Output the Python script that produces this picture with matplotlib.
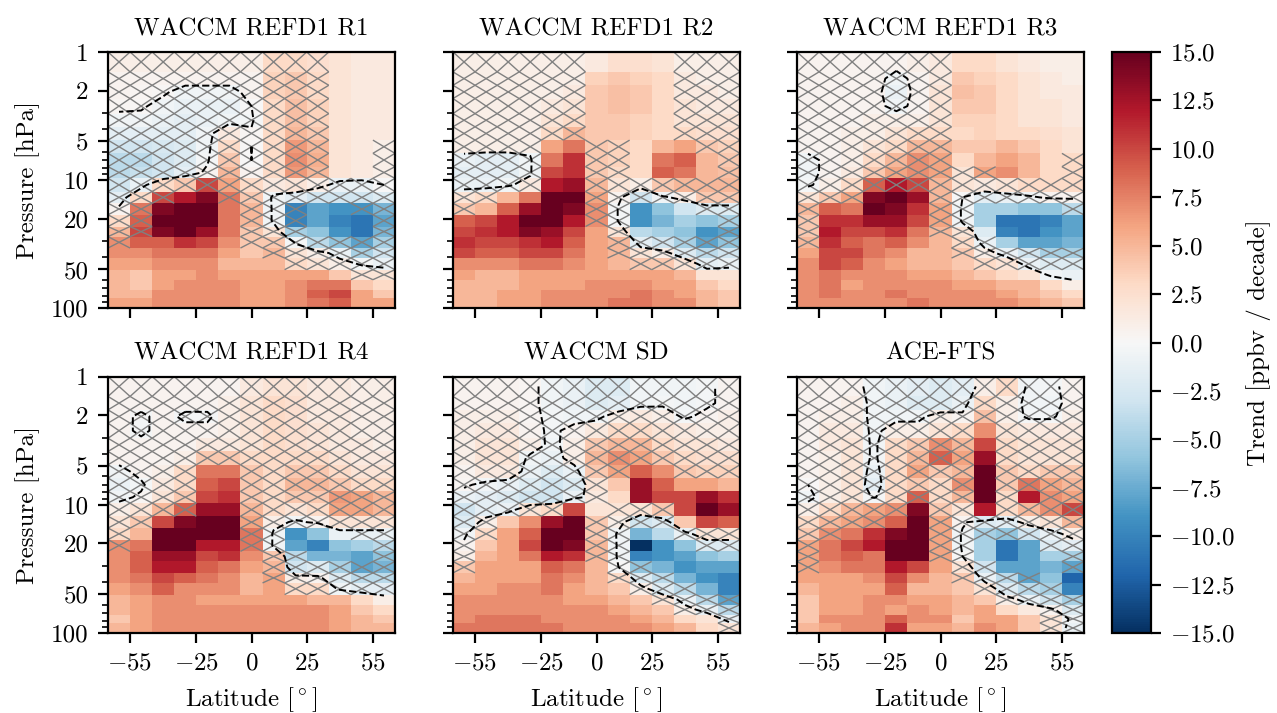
"""
Ozone-trend latitude/pressure cross sections: four WACCM REFD1 members,
WACCM SD and ACE-FTS, with non-significant cells crossed out.
"""
import numpy as np
import matplotlib.pyplot as plt
from matplotlib.collections import LineCollection

plt.rcParams.update({
    "font.family": "serif",
    "font.serif": ["cmr10"],
    "mathtext.fontset": "cm",
    "axes.formatter.use_mathtext": True,
    "font.size": 9,
})

# ── Grid ───────────────────────────────────────────────────────────────────
lat = [-60, -50, -40, -30, -20, -10, 0, 10, 20, 30, 40, 50, 60]
p_edges = [1.0, 1.43, 1.82, 2.31, 3.03, 3.84, 4.88, 6.19, 7.87, 9.7, 12.3,
           15.2, 18.7, 23.1, 27.7, 34.0, 40.7, 50.2, 60.1, 71.9, 83.6, 100.0]

# ── Trends [ppbv / decade], rows top (1 hPa) to bottom (100 hPa) ───────────
r1 = [
    [1, 1, 1, 1, 1, 1, 1, 3, 3, 2.5, 2, 1.5, 1.5],
    [0.5, 0.5, 0.5, 0.5, 0.5, 0.5, 0.5, 3.5, 4, 3, 2, 1.5, 1.5],
    [0.5, 0.3, 0.2, -0.5, -0.5, -0.5, 0.5, 3.5, 4, 3, 2, 1.5, 1.5],
    [0.3, 0.2, -0.5, -1, -1, -1, 0, 3, 4.5, 3.5, 2, 1.5, 1.5],
    [-0.5, -0.5, -1, -1.5, -1, -0.5, -0.3, 3, 4.5, 3.5, 2, 1.5, 1.5],
    [-1.5, -1.5, -1.5, -1.5, -0.5, 1.5, 0.3, 3, 5, 4, 2, 1.5, 1.5],
    [-3, -3, -2.5, -2, -0.5, 3, 0, 3, 6.5, 5, 2, 1.5, 1],
    [-4, -4, -3, -2, -0.3, 4, 0, 3, 7, 5.5, 2, 1.5, 1],
    [-4, -3.5, -3, -1.5, 0.5, 5, 0.5, 3, 6.5, 5, 2, 1.5, 1],
    [-3, -1, 3, 4, 10, 6, 3, 1.5, 2, 1, -1, -1, 0],
    [-1.5, 3, 10, 12, 14, 8, 4, -0.5, -1.5, -3, -3, -3, -2],
    [0.5, 8, 14, 16, 15, 8, 5, -0.5, -10, -8, -9, -9, -7],
    [3, 9, 15, 16, 15, 8, 5, -0.5, -10, -8, -10, -11, -8],
    [5, 10, 14, 15, 13, 8, 4, 2, -5, -6, -9, -11, -7],
    [7, 9, 9, 11, 10, 7, 4, 4, -0.3, -4, -6, -8, -5],
    [7, 7, 8, 8, 8, 6, 4, 5, 2, 1, -1, -5, -3],
    [6, 6, 7, 7, 7, 5, 5, 5, 3, 2, 1, -0.3, -1],
    [5, 4, 6, 6, 7, 6, 6, 6, 6, 6, 4, 2, 2],
    [5, 4, 6, 7, 7, 7, 6, 6, 7, 8, 8, 4, 3],
    [5, 5, 7, 7, 7, 7, 6, 6, 7, 9, 10, 6, 4],
    [6, 6, 7, 7, 7, 7, 6, 6, 7, 8, 9, 6, 6],
]
r2 = [
    [1, 1, 1, 1, 1, 1, 1.5, 2.5, 2.5, 2, 1, 1, 1],
    [1, 1, 1, 1, 1, 1, 3.5, 4, 3.5, 3, 1.5, 1, 1],
    [1, 1, 1, 1, 1, 1.5, 4, 4.5, 4, 3, 1.5, 1.5, 1],
    [1, 1, 1, 1, 1.5, 2, 4, 4.5, 4, 3, 2, 1.5, 1.5],
    [1, 1, 1, 1, 2, 3, 4, 4, 3.5, 3, 2, 2, 2],
    [1, 1, 1, 1, 3, 5, 4, 4, 3.5, 3, 3, 2.5, 2.5],
    [1, 1, 1, 1, 6, 8, 4, 3.5, 3, 5, 6, 4, 3.5],
    [-1, -1.5, -1.5, -0.5, 8, 11, 4, 3.5, 3, 8, 9, 5, 4],
    [-1.5, -1.5, -1.5, -0.5, 10, 11, 4, 3, 3, 9, 8, 5, 4.5],
    [-1, -1, -0.5, 1.5, 12, 13, 5, 2, 1, 4, 5, 5, 5],
    [2, 3, 5, 8, 15, 15, 6, 0.5, -3, -0.5, 1, 4, 4],
    [4, 5, 9, 13, 16, 14, 7, -0.3, -9, -6, -3, -2, -2],
    [9, 10, 12, 16, 15, 12, 7, -0.3, -9, -7, -5, -6, -5],
    [10, 11, 12, 14, 13, 10, 6, 2, -4, -5, -6, -9, -8],
    [11, 10, 10, 11, 12, 9, 6, 5, -1.5, -3, -5, -8, -6],
    [10, 9, 9, 10, 10, 8, 6, 5, 2, 1, -2, -4, -3],
    [7, 7, 7, 8, 8, 7, 6, 5, 4, 4, 2, -1.5, -1],
    [6, 5, 5, 6, 6, 6, 6, 6, 6, 6, 5, 2, 2],
    [5, 5, 5, 6, 6, 6, 7, 7, 7, 6, 6, 4, 3],
    [5, 5, 6, 6, 7, 7, 7, 7, 8, 7, 6, 5, 4],
    [5, 5, 6, 6, 7, 7, 7, 8, 8, 7, 7, 5, 4],
]
r3 = [
    [0.5, 0.5, 0.5, 0.5, 0.5, 1, 1.5, 3, 3, 2, 1.5, 1, 1],
    [0.5, 0.5, 0.5, 0.5, -0.5, 0.5, 1.5, 4, 3.5, 3, 2, 1.5, 1],
    [0.5, 0.5, 0.5, 0.5, -1, 0.5, 2, 4.5, 4, 3, 2, 1.5, 1.5],
    [0.5, 0.5, 0.5, 0.5, -0.5, 0.5, 2, 4, 4, 3, 2, 2, 1.5],
    [0.5, 0.5, 0.5, 1, 1, 1, 2, 3.5, 3.5, 3, 2, 2, 1.5],
    [0.5, 0.5, 1, 1, 2, 3, 3, 3, 3.5, 3, 3, 2.5, 2],
    [0.5, 0.5, 1, 2, 3, 5, 5, 4, 4, 5, 4, 3, 2],
    [-0.5, 0.5, 1, 3, 5, 7, 6, 3, 5, 6, 5, 3, 3],
    [-0.5, 0.5, 1.5, 4, 6, 7, 6, 2, 6, 7, 5, 3, 3],
    [-0.3, 1, 3, 9, 12, 10, 5, 2, 1.5, 2, 3, 3, 3],
    [2, 4, 6, 14, 16, 13, 5, 0, -1.5, -1, -0.5, 0.5, 0.5],
    [5, 9, 8, 15, 14, 11, 6, -0.5, -5, -5, -6, -6, -4],
    [4, 11, 11, 13, 13, 10, 6, -0.5, -5, -11, -11, -10, -8],
    [4, 12, 10, 10, 11, 8, 5, 2, -2, -10, -11, -9, -8],
    [5, 11, 9, 8, 9, 7, 5, 3, -1, -5, -8, -8, -7],
    [6, 10, 10, 8, 7, 5, 5, 4, 1, -1, -3, -5, -5],
    [7, 10, 9, 7, 6, 5, 5, 4, 3, 2, -1, -2, -2],
    [7, 8, 7, 7, 7, 6, 6, 5, 4, 3, 2, -0.5, -1],
    [7, 8, 6, 7, 7, 7, 7, 6, 6, 5, 5, 3, 1],
    [7, 8, 7, 7, 8, 7, 7, 7, 7, 6, 5, 4, 3],
    [7, 7, 7, 7, 7, 8, 7, 7, 7, 7, 6, 5, 4],
]
r4 = [
    [0.5, 0.5, 0.5, 0.5, 0.5, 0.5, 1.5, 2, 2, 1.5, 1.5, 1, 1],
    [0.5, 0.5, 0.5, 0.5, 0.5, 1, 2, 3, 2.5, 1.5, 1.5, 1, 1],
    [0.5, -0.3, 0.5, -0.3, -0.3, 1, 2, 3, 2.5, 1.5, 1.5, 1, 1],
    [0.5, -0.3, 0.5, 0.5, 0.5, 1, 2, 3, 2.5, 2, 1.5, 1, 1],
    [0.5, 0.5, 0.5, 0.5, 1.5, 1.5, 2, 3, 2.5, 2, 1.5, 1.5, 1],
    [0.5, 0.5, 0.5, 1, 4, 4, 3, 3, 3, 3, 2, 1.5, 1.5],
    [-0.5, 0.5, 1, 3, 8, 8, 4, 3, 4, 4, 3, 2, 2],
    [-1, -0.3, 1.5, 3, 9, 10, 4, 3, 5, 5, 4, 3, 3],
    [-0.5, 0.3, 2, 4, 10, 11, 4, 3, 4, 4, 6.5, 6, 5],
    [1, 2, 5, 9, 13, 13, 5, 3, 2, 3, 6, 6, 5],
    [2, 4, 10, 14, 15, 15, 6, 1, -0.5, 0.5, 2, 2, 2],
    [3, 5, 15, 16, 15, 15, 8, -0.5, -9, -6, -1, -1, -1],
    [7, 8, 15, 16, 12, 12, 8, -0.5, -8, -10, -6, -5, -4],
    [7, 9, 13, 13, 10, 11, 7, 4, -4, -7, -7, -8, -6],
    [7, 9, 12, 12, 9, 8, 6, 5, -3, -2, -5, -8, -7],
    [7, 8, 10, 9, 8, 7, 5, 6, 1, 0.5, -2, -4, -4],
    [6, 7, 9, 7, 7, 7, 5, 6, 3, 3, -0.5, -1.5, -1.5],
    [5, 6, 7, 7, 6, 6, 6, 6, 6, 5, 5, 3, 1],
    [5, 6, 7, 7, 7, 7, 7, 7, 7, 7, 6, 4, 3],
    [4, 6, 7, 7, 7, 7, 7, 7, 7, 7, 6, 5, 4],
    [5, 6, 7, 7, 7, 7, 7, 7, 7, 7, 6, 5, 5],
]
sd = [
    [0.5, 0.5, 0.5, 0.3, -0.5, -1, -2, -2, -0.5, -0.5, -0.5, -0.3, 0.5],
    [0.5, 0.5, 0.5, 0.3, -0.5, -1, -2, -1.5, -0.5, -0.3, -0.5, -0.3, 0.5],
    [1, 1, 1, 0.3, -0.3, -0.5, -0.5, 1, 1.5, 1, -0.3, 0.5, 1],
    [1, 1.5, 1.5, 0.5, -0.3, 0.5, 1.5, 3, 3, 2, 1.5, 1, 1],
    [1, 2, 2, 1, -0.5, 1, 4, 5, 5, 3, 2, 2, 1.5],
    [1, 2, 2, -0.5, -1, 1, 5, 7, 6, 4, 3, 2.5, 2.5],
    [0.5, 1.5, 1.5, -1, -2, -1, 4, 6, 9, 7, 4, 3.5, 3.5],
    [0.3, -0.5, -1, -2, -3, -2, 2, 4, 13, 9, 6, 6, 5],
    [-1, -1.5, -2, -3, -3, -1, 1.5, 3, 13, 10, 10, 13, 11],
    [-3, -1.5, -1, 2, 3, 10, 2, 2, 2, 4, 10, 15, 13],
    [-2, 1, 4, 7, 13, 16, 4, 1, -3, -2, 4, 10, 9],
    [-0.5, 3, 6, 9, 16, 16, 4, -0.5, -7, -4, -1, 2, 2],
    [0.5, 4, 6, 10, 16, 14, 5, -0.5, -16, -9, -6, -2, -2],
    [1, 5, 6, 8, 12, 11, 5, -0.5, -10, -9, -8, -6, -5],
    [4, 6, 6, 6, 9, 8, 5, 0, -6, -7, -9, -8, -8],
    [5, 6, 6, 6, 8, 7, 5, 3, -2, -4, -7, -9, -10],
    [6, 6, 7, 7, 8, 6, 5, 4, 1, -2, -4, -7, -10],
    [7, 7, 7, 7, 7, 6, 6, 5, 4, 2, -1, -4, -8],
    [7, 7, 7, 7, 7, 7, 7, 6, 5, 4, 1, -1, -4],
    [7, 8, 8, 8, 7, 7, 7, 7, 6, 5, 3, 2, -1],
    [8, 8, 8, 8, 8, 7, 7, 7, 7, 6, 5, 3, 2],
]
ace = [
    [0.5, 0.5, 0.5, -0.5, -1, -1.5, -2, -1.5, 1, 3, -0.5, -0.3, 0.5],
    [0.5, 0.5, 1, -0.5, -1, -2, -2, -1, 3, 1, -0.5, -0.5, 0.5],
    [0.5, 1, 1, -0.5, -0.5, -0.5, 1, 0.5, 4.5, 1, -0.3, -0.3, 1],
    [0.5, 1.5, 1.5, -0.5, 1, 1, 2, 3, 7, 2, 1.5, 1.5, 1.5],
    [0.5, 1.5, 2, -0.5, 3, 4, 7, 5, 10, 3, 2, 2, 2],
    [0.5, 1, 2, -0.5, 3, 5, 9, 6, 13, 3, 2, 2, 2],
    [0.5, 1, 2, -1, 3, 6, 4, 5, 15, 4, 3, 4, 4],
    [0, 1, 2, -1.5, 3, 4, 3, 7, 16, 4, 8, 6, 5],
    [-0.5, 1, 2, -0.3, 3, 9, 3, 5, 15, 3, 12, 7, 6],
    [1, 3, 5, 6, 7, 14, 4, 2, 12, 3, 5, 7, 10],
    [3, 5, 6, 7, 9, 16, 6, 0.5, -2, -1.5, 1, 2, 5],
    [4, 7, 8, 11, 14, 16, 6, -0.5, -5, -6, -3, -1, 1],
    [6, 8, 10, 12, 16, 16, 6, -0.5, -5, -11, -8, -2, -1.5],
    [6, 8, 9, 8, 16, 15, 6, 0, -5, -11, -8, -5, -5],
    [6, 7, 8, 8, 12, 10, 6, 2, -3, -8, -8, -7, -8],
    [6, 6, 6, 7, 10, 7, 5, 4, -1, -4, -8, -6, -12],
    [5, 6, 6, 6, 9, 5, 5, 4, 2, -2, -4, -5, -10],
    [4, 6, 6, 7, 7, 6, 6, 5, 4, 1, -1, -3, -5],
    [4, 6, 6, 7, 6, 7, 6, 5, 6, 3, 1.5, 0.5, -2],
    [4, 7, 7, 7, 9, 7, 7, 4, 6, 6, 4, 2, -0.5],
    [5, 6, 7, 7, 11, 6, 6, 5, 7, 6, 4, 2, -1],
]

# ── Non-significant cells (1 = crossed out) ────────────────────────────────
r1_ns = [
    "1111111111000", "1111111111000", "1111111111000", "1111111111000",
    "1111111111000", "1111111111000", "1111111111001", "1111111111001",
    "1111111111001", "1111111111111", "1110011111111", "1100001110011",
    "1100001110001", "1100001110001", "1000001111111", "0000000111111",
    "0000000011111", "0000000000011", "0000000000000", "0000000000000",
    "0000000000000",
]
r2_ns = [
    "1111110000111", "1111110000111", "1111110000111", "1111110000111",
    "1111110000111", "1111110000111", "1111001100011", "1111001100001",
    "1111001100001", "1111001111111", "1100001111111", "1000001100011",
    "0000001100001", "0000000100001", "0000000111111", "0000000111111",
    "0000000011111", "0000000000000", "0000000000000", "0000000000000",
    "0000000000000",
]
r3_ns = [
    "1111111000000", "1111111000000", "1111111000000", "1111111000000",
    "1111111000000", "1111111000000", "1111111000000", "1111111000001",
    "1111111110001", "1111111111111", "1110001111111", "1000001100001",
    "1000001100000", "1000001100000", "1000000110000", "0000000111111",
    "0000000011111", "0000000000000", "0000000000000", "0000000000000",
    "0000000000000",
]
r4_ns = [
    "1111111111111", "1111111111111", "1111111111111", "1111111111111",
    "1111111111111", "1111111111111", "1111001111111", "1111001111111",
    "1111001111111", "1111001111111", "1100001111111", "1000001100011",
    "1000001100001", "0000000110001", "0000000111111", "0000000111111",
    "0000000011111", "0000000000000", "0000000000000", "0000000000000",
    "0000000000000",
]
sd_ns = [
    "1111111111111", "1111111111111", "1111111111111", "1111111111111",
    "1111111111111", "1111111111111", "1111111100111", "1111111000000",
    "1111111000000", "1111100111000", "1100001111000", "1100001100111",
    "1000001100011", "1000001100000", "1000000110000", "0000000111000",
    "0000000011100", "0000000001111", "0000000000111", "0000000000001",
    "0000000000001",
]
ace_ns = [
    "1111111111111", "1111111111111", "1111111111111", "1111111101111",
    "1111111101111", "1111111101111", "1111111101111", "1111111101111",
    "1111111101011", "1111101101111", "1111001111111", "1100001111111",
    "1000001100011", "1000001100001", "1000000110001", "0000000111100",
    "0000000011110", "0000000001111", "0000000000011", "0000000000011",
    "0000000000011",
]

titles = ["WACCM REFD1 R1", "WACCM REFD1 R2", "WACCM REFD1 R3",
          "WACCM REFD1 R4", "WACCM SD", "ACE-FTS"]
trends = [r1, r2, r3, r4, sd, ace]
masks = [r1_ns, r2_ns, r3_ns, r4_ns, sd_ns, ace_ns]

# cell edges / centres
lat = np.array(lat, dtype=float)
lat_edges = np.concatenate([lat - 5, [lat[-1] + 5]])
p_edges = np.array(p_edges)
p_mid = np.sqrt(p_edges[:-1] * p_edges[1:])

# ── Figure ─────────────────────────────────────────────────────────────────
W, H = 1277, 713
fig = plt.figure(figsize=(W / 200, H / 200), dpi=200)
col_x = [108, 453, 797]
row_y = [(52, 308), (376.5, 633)]
axw = 287

for k, (title, data, ns) in enumerate(zip(titles, trends, masks)):
    i, j = divmod(k, 3)
    top, bot = row_y[i]
    ax = fig.add_axes([col_x[j] / W, 1 - bot / H, axw / W, (bot - top) / H])
    z = np.array(data, dtype=float)
    mesh = ax.pcolormesh(lat_edges, p_edges, z, cmap="RdBu_r",
                         vmin=-15, vmax=15, shading="flat")

    # cross out non-significant cells corner to corner
    segs = []
    for r, line in enumerate(ns):
        for c, flag in enumerate(line):
            if flag == "1":
                x0, x1 = lat_edges[c], lat_edges[c + 1]
                y0, y1 = p_edges[r], p_edges[r + 1]
                segs.append([(x0, y0), (x1, y1)])
                segs.append([(x0, y1), (x1, y0)])
    ax.add_collection(LineCollection(segs, colors="0.5", linewidths=0.5,
                                     zorder=2))

    ax.contour(lat, p_mid, z, levels=[0], colors="k", linewidths=0.7,
               linestyles="--", zorder=3)

    ax.set_yscale("log")
    ax.set_ylim(100, 1)
    ax.set_xlim(-65, 65)
    ax.set_xticks([-55, -25, 0, 25, 55])
    ax.set_yticks([1, 2, 5, 10, 20, 50, 100])
    ax.set_title(title, fontsize=9)
    if j == 0:
        ax.set_yticklabels(["1", "2", "5", "10", "20", "50", "100"])
        ax.set_ylabel("Pressure [hPa]")
    else:
        ax.set_yticklabels([])
    if i == 1:
        ax.set_xlabel(r"Latitude [$^\circ$]")
    else:
        ax.set_xticklabels([])

cax = fig.add_axes([1112 / W, 1 - 633 / H, 39 / W, (633 - 52) / H])
cb = fig.colorbar(mesh, cax=cax)
cb.set_ticks(np.arange(-15, 15.1, 2.5))
cb.set_label("Trend [ppbv / decade]")

fig.savefig("out.png", dpi=200)
